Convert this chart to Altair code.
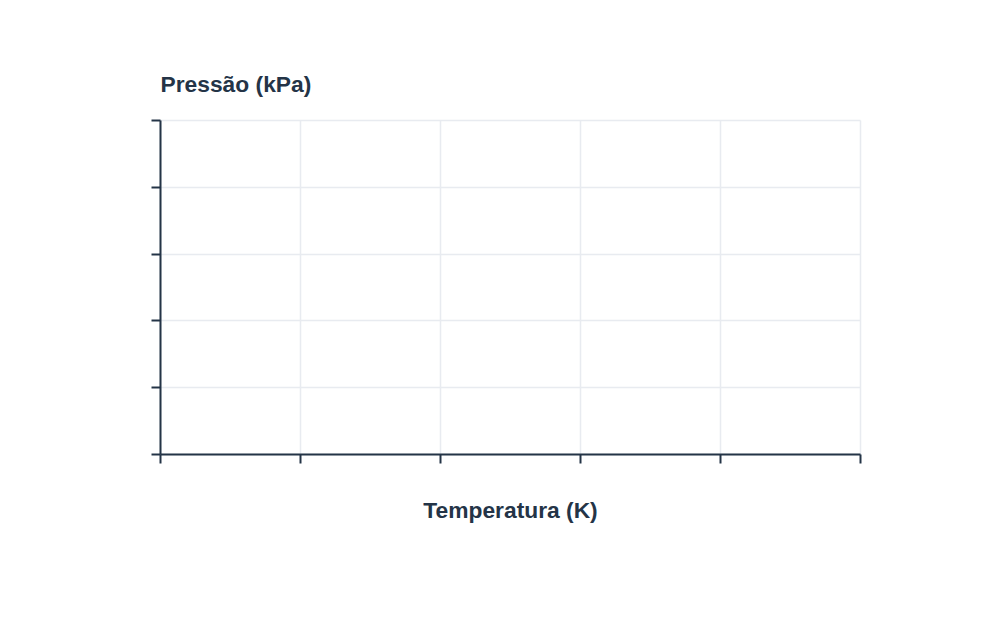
import altair as alt

# Data (the reference chart is empty: no plotted points)
temperatura = []
pressao = []
x_ticks = [0, 1, 2, 3, 4, 5]
y_ticks = [0, 1, 2, 3, 4, 5]

rows = [{"Temperatura": t, "Pressao": p} for t, p in zip(temperatura, pressao)]

AXIS_COLOR = "#243447"
GRID_COLOR = "#e8ebf0"
FONT = "Liberation Sans"

chart = alt.Chart(alt.Data(values=rows)).mark_point().encode(
    x=alt.X(
        "Temperatura:Q",
        scale=alt.Scale(domain=[0, 5], nice=False, zero=False),
        axis=alt.Axis(
            title="Temperatura (K)",
            values=x_ticks,
            labels=False,
            ticks=True,
            tickSize=9,
            tickWidth=2,
            tickColor=AXIS_COLOR,
            domainColor=AXIS_COLOR,
            domainWidth=2,
            grid=True,
            gridColor=GRID_COLOR,
            gridWidth=1.5,
            titleFont=FONT,
            titleFontSize=22.8,
            titleFontWeight="bold",
            titleColor=AXIS_COLOR,
            titleBaseline="alphabetic",
            titleY=63,
        ),
    ),
    y=alt.Y(
        "Pressao:Q",
        scale=alt.Scale(domain=[0, 5], nice=False, zero=False),
        axis=alt.Axis(
            title="Pressão (kPa)",
            values=y_ticks,
            labels=False,
            ticks=True,
            tickSize=9,
            tickWidth=2,
            tickColor=AXIS_COLOR,
            domainColor=AXIS_COLOR,
            domainWidth=2,
            grid=True,
            gridColor=GRID_COLOR,
            gridWidth=1.5,
            titleFont=FONT,
            titleFontSize=22.8,
            titleFontWeight="bold",
            titleColor=AXIS_COLOR,
            titleAngle=0,
            titleAlign="left",
            titleBaseline="alphabetic",
            titleX=0,
            titleY=-29,
        ),
    ),
).properties(
    width=700,
    height=334,
    autosize=alt.AutoSizeParams(type="none"),
    padding={"left": 160, "top": 120, "right": 140, "bottom": 166},
    background="white",
).configure_view(stroke=None)

chart.save("out.html", embed_options={"renderer": "svg", "actions": False})
